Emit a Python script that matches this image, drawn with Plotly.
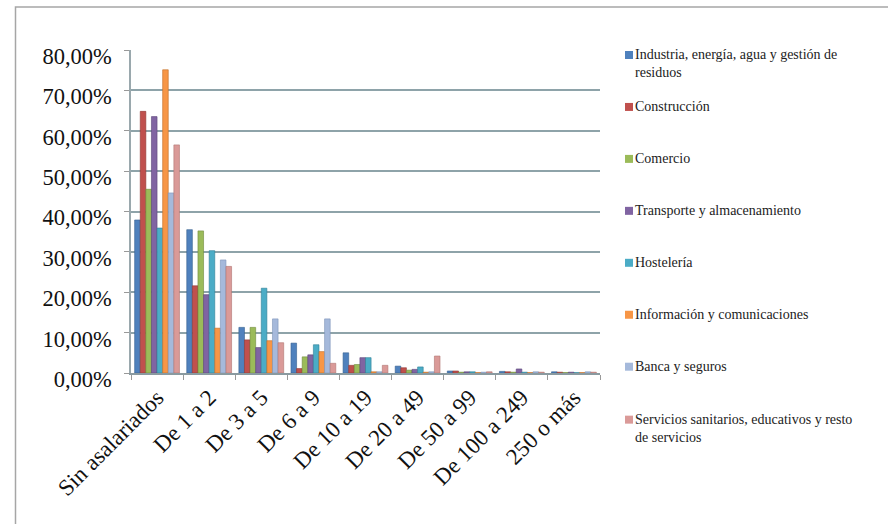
import plotly.graph_objects as go

categories = ["Sin asalariados", "De 1 a 2", "De 3 a 5", "De 6 a 9", "De 10 a 19",
              "De 20 a 49", "De 50 a 99", "De 100 a 249", "250 o más"]

industria = [37.9, 35.5, 11.3, 7.4, 5.0, 1.7, 0.5, 0.4, 0.3]
construccion = [64.8, 21.6, 8.2, 1.1, 1.9, 1.3, 0.5, 0.3, 0.2]
comercio = [45.5, 35.2, 11.3, 4.0, 2.1, 0.7, 0.2, 0.2, 0.1]
transporte = [63.5, 19.4, 6.3, 4.5, 3.8, 0.9, 0.3, 1.0, 0.2]
hosteleria = [35.9, 30.3, 21.0, 7.0, 3.8, 1.5, 0.3, 0.2, 0.1]
informacion = [75.1, 11.1, 8.0, 5.3, 0.3, 0.2, 0.1, 0.1, 0.1]
banca = [44.6, 28.0, 13.4, 13.4, 0.3, 0.3, 0.2, 0.3, 0.3]
servicios = [56.5, 26.4, 7.5, 2.4, 1.9, 4.2, 0.3, 0.2, 0.2]

series_names = [
    "Industria, energía, agua y gestión de<br>residuos",
    "Construcción",
    "Comercio",
    "Transporte y almacenamiento",
    "Hostelería",
    "Información y comunicaciones",
    "Banca y seguros",
    "Servicios sanitarios, educativos y resto<br>de servicios",
]
series_values = [industria, construccion, comercio, transporte, hosteleria,
                 informacion, banca, servicios]
colors = ["#4F81BD", "#C0504D", "#9BBB59", "#8064A2", "#4BACC6", "#F79646",
          "#A5B9DB", "#DA9A98"]
edge_colors = ["#35608f", "#8f3633", "#6f8a3a", "#5b4578", "#2f7f95", "#c06c26",
               "#7d93b8", "#b07370"]

W, H = 888, 524
L, R, T, B = 131, 600, 50, 373.3
SERIF = "Liberation Serif"

fig = go.Figure()
for name, vals, c, ec in zip(series_names, series_values, colors, edge_colors):
    fig.add_trace(go.Bar(
        x=categories, y=[v / 100 for v in vals], name=name.replace("<br>", " "),
        marker=dict(color=c, line=dict(color=ec, width=0.6)),
        showlegend=False,
    ))

def px_x(px):
    return (px - L) / (R - L)

def px_y(py):
    return (B - py) / (B - T)

shapes = []
annotations = []
legend_y = [55, 107, 159, 211, 263, 315, 367, 420]
for name, c, yy in zip(series_names, colors, legend_y):
    shapes.append(dict(type="rect", xref="paper", yref="paper",
                       x0=px_x(625), x1=px_x(633), y0=px_y(yy + 4), y1=px_y(yy - 4),
                       fillcolor=c, line=dict(width=0)))
    annotations.append(dict(xref="paper", yref="paper", x=px_x(633), y=px_y(yy - 10),
                            xanchor="left", yanchor="top", align="left",
                            text=name, showarrow=False,
                            font=dict(family=SERIF, size=14, color="#222222")))

# outer chart frame
shapes.append(dict(type="rect", xref="paper", yref="paper", layer="below",
                   x0=px_x(15.5), x1=px_x(W + 20), y0=px_y(7), y1=px_y(H + 20),
                   line=dict(color="#a6a6a6", width=1.5), fillcolor="rgba(0,0,0,0)"))

fig.update_layout(
    width=W, height=H,
    margin=dict(l=L, r=W - R, t=T, b=H - B),
    paper_bgcolor="white", plot_bgcolor="white",
    barmode="group", bargap=0.14, bargroupgap=0,
    separators=",.",
    font=dict(family=SERIF, color="#111111"),
    shapes=shapes, annotations=annotations,
    xaxis=dict(
        tickangle=-45, tickfont=dict(size=23, family=SERIF),
        showline=True, linecolor="#8a9aa0", linewidth=2,
        ticks="outside", ticklen=5, tickcolor="#999999", tickson="boundaries",
        showgrid=False,
    ),
    yaxis=dict(
        range=[0, 0.8], dtick=0.1, tickformat=".2%",
        tickfont=dict(size=22.5, family=SERIF),
        showline=True, linecolor="#9aa8ad", linewidth=1.5,
        ticks="outside", ticklen=5, tickcolor="#999999",
        showgrid=True, gridcolor="#8ea3a9", gridwidth=2,
        zeroline=False, ticklabelstandoff=8, ticklabelshift=6,
    ),
)

fig.write_html("out.html", config={"displayModeBar": False},
               post_script="document.body.style.margin='0px';document.body.style.overflow='hidden';")
